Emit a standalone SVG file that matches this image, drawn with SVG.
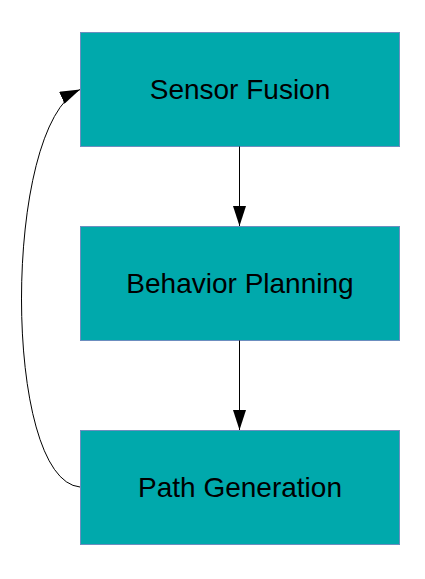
<svg xmlns="http://www.w3.org/2000/svg" width="425" height="579" viewBox="0 0 425 579">
<style>
.box{fill:#00A9AC;stroke:#6C8EBF;stroke-width:1}
.lbl{font-family:"Liberation Sans",Arial,sans-serif;font-size:28px;fill:#000;text-anchor:middle}
.edge{fill:none;stroke:#000;stroke-width:1}
</style>
<defs>
<marker id="ah2" markerWidth="20" markerHeight="13" viewBox="0 0 20 13" refX="20" refY="6.5" orient="auto" markerUnits="userSpaceOnUse">
<path d="M0,0 L20,6.5 L0,13 Z" fill="#000"/>
</marker>
</defs>
<g id="sensor-fusion"><rect class="box" x="80.5" y="32.5" width="319" height="114"/><text class="lbl" x="240" y="99">Sensor Fusion</text></g>
<g id="behavior-planning"><rect class="box" x="80.5" y="226.5" width="319" height="114"/><text class="lbl" x="240" y="293">Behavior Planning</text></g>
<g id="path-generation"><rect class="box" x="80.5" y="430.5" width="319" height="114"/><text class="lbl" x="240" y="497">Path Generation</text></g>
<g id="connectors">
<path class="edge" d="M239.5,146.5 L239.5,226" marker-end="url(#ah2)"/>
<path class="edge" d="M239.5,340.5 L239.5,430" marker-end="url(#ah2)"/>
<path class="edge" d="M80,487 C 2,480 2,125 80,89.5" marker-end="url(#ah2)"/>
</g>
</svg>
